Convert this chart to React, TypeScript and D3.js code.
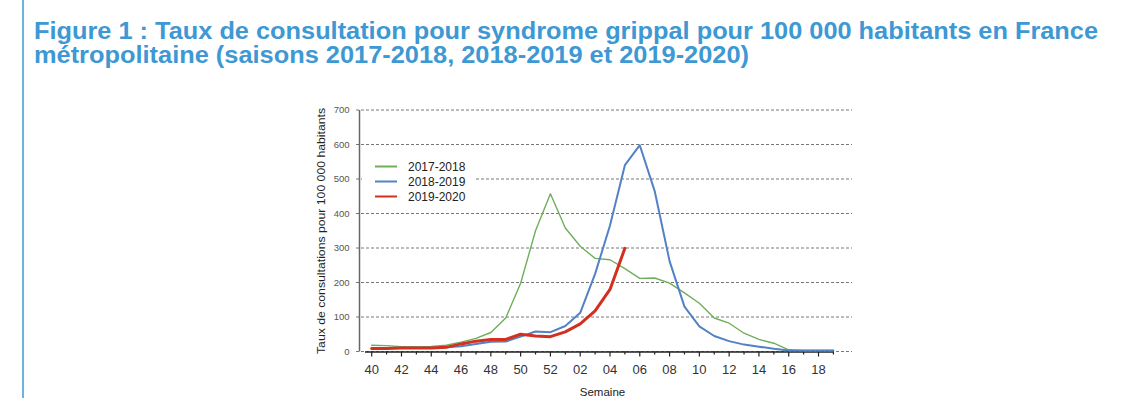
import * as d3 from 'd3';

// week labels (season runs from week 40 to week 19)
const weeks = ['40','41','42','43','44','45','46','47','48','49','50','51','52',
  '01','02','03','04','05','06','07','08','09','10','11','12','13','14','15','16','17','18','19'];
const tickWeeks = ['40','42','44','46','48','50','52','02','04','06','08','10','12','14','16','18'];
const yTicks = [0, 100, 200, 300, 400, 500, 600, 700];

// rates per 100 000 inhabitants
const s2017 = [18, 17, 14, 14, 15, 18, 27, 38, 55, 97, 198, 350, 457,
  358, 305, 270, 266, 240, 212, 213, 198, 170, 140, 97, 82, 53, 35, 24, 5, 3, 3, 3];
const s2018 = [10, 10, 11, 11, 11, 12, 15, 22, 28, 29, 43, 58, 56,
  74, 112, 225, 365, 540, 598, 465, 262, 130, 73, 45, 30, 20, 14, 8, 3, 3, 3, 3];
const s2019 = [9, 9, 10, 10, 10, 12, 22, 30, 35, 35, 50, 45, 43, 57, 80, 118, 180, 299];

const series = [
  { name: '2017-2018', values: s2017, color: '#6fae5a', width: 1.4 },
  { name: '2018-2019', values: s2018, color: '#5282c4', width: 2 },
  { name: '2019-2020', values: s2019, color: '#d4301f', width: 3 },
];

export default function App() {
  const width = 1124;
  const height = 398;

  const x = d3.scalePoint<string>().domain(weeks).range([371.7, 833.4]);
  const y = d3.scaleLinear().domain([0, 700]).range([351.5, 110]);

  const line = d3.line<number>()
    .x((_, i) => x(weeks[i]) as number)
    .y(d => y(d));

  return (
    <svg width={width} height={height} style={{ position: 'absolute', left: 0, top: 0, background: '#fff' }}
      fontFamily="'Liberation Sans', Arial, sans-serif">
      {/* page border on the left */}
      <line x1={23} x2={23} y1={0} y2={height} stroke="#6ab3e3" strokeWidth={2} />

      {/* title */}
      <g fill="#3d98d3" fontWeight="bold" fontSize={23}>
        <text x={34} y={38.5} textLength={1064} lengthAdjust="spacingAndGlyphs">
          Figure 1 : Taux de consultation pour syndrome grippal pour 100 000 habitants en France
        </text>
        <text x={34} y={63} textLength={715} lengthAdjust="spacingAndGlyphs">
          métropolitaine (saisons 2017-2018, 2018-2019 et 2019-2020)
        </text>
      </g>

      {/* grid lines */}
      {yTicks.map(t => (
        <g key={t}>
          <line x1={356} x2={852} y1={y(t)} y2={y(t)} stroke="#555" strokeWidth={0.8} strokeDasharray="3 2" />
          <text x={349.5} y={y(t) + 3.3} fontSize={9.5} fill="#555" textAnchor="end">{t}</text>
        </g>
      ))}

      {/* y axis */}
      <line x1={359.5} x2={359.5} y1={y(700)} y2={y(0)} stroke="#666" strokeWidth={1.5} />
      <text transform={`translate(325, 231) rotate(-90)`} textAnchor="middle" fontSize={11.5} fill="#222"
        textLength={246} lengthAdjust="spacingAndGlyphs">
        Taux de consultations pour 100 000 habitants
      </text>

      {/* x axis */}
      <line x1={365} x2={834} y1={y(0) + 0.5} y2={y(0) + 0.5} stroke="#222" strokeWidth={1.5} />
      {weeks.map(w => {
        const major = tickWeeks.includes(w);
        return (
          <line key={w} x1={x(w)} x2={x(w)} y1={y(0)} y2={y(0) + (major ? 5 : 3)} stroke="#222" strokeWidth={1.2} />
        );
      })}
      {tickWeeks.map(w => (
        <text key={w} x={x(w)} y={373.5} fontSize={13} fill="#333" textAnchor="middle">{w}</text>
      ))}
      <text x={602.5} y={396} fontSize={11.5} fill="#222" textAnchor="middle">Semaine</text>

      {/* series */}
      {series.map(s => (
        <path key={s.name} d={line(s.values) ?? ''} fill="none" stroke={s.color} strokeWidth={s.width}
          strokeLinejoin="round" strokeLinecap="round" />
      ))}

      {/* legend, white box hides the grid behind it */}
      <rect x={362} y={154} width={113} height={50} fill="#fff" />
      {series.map((s, i) => (
        <g key={s.name} transform={`translate(375, ${166.5 + i * 15})`}>
          <line x1={0} x2={22} y1={0} y2={0} stroke={s.color} strokeWidth={2} />
          <text x={33} y={4.3} fontSize={12} fill="#222">{s.name}</text>
        </g>
      ))}
    </svg>
  );
}
